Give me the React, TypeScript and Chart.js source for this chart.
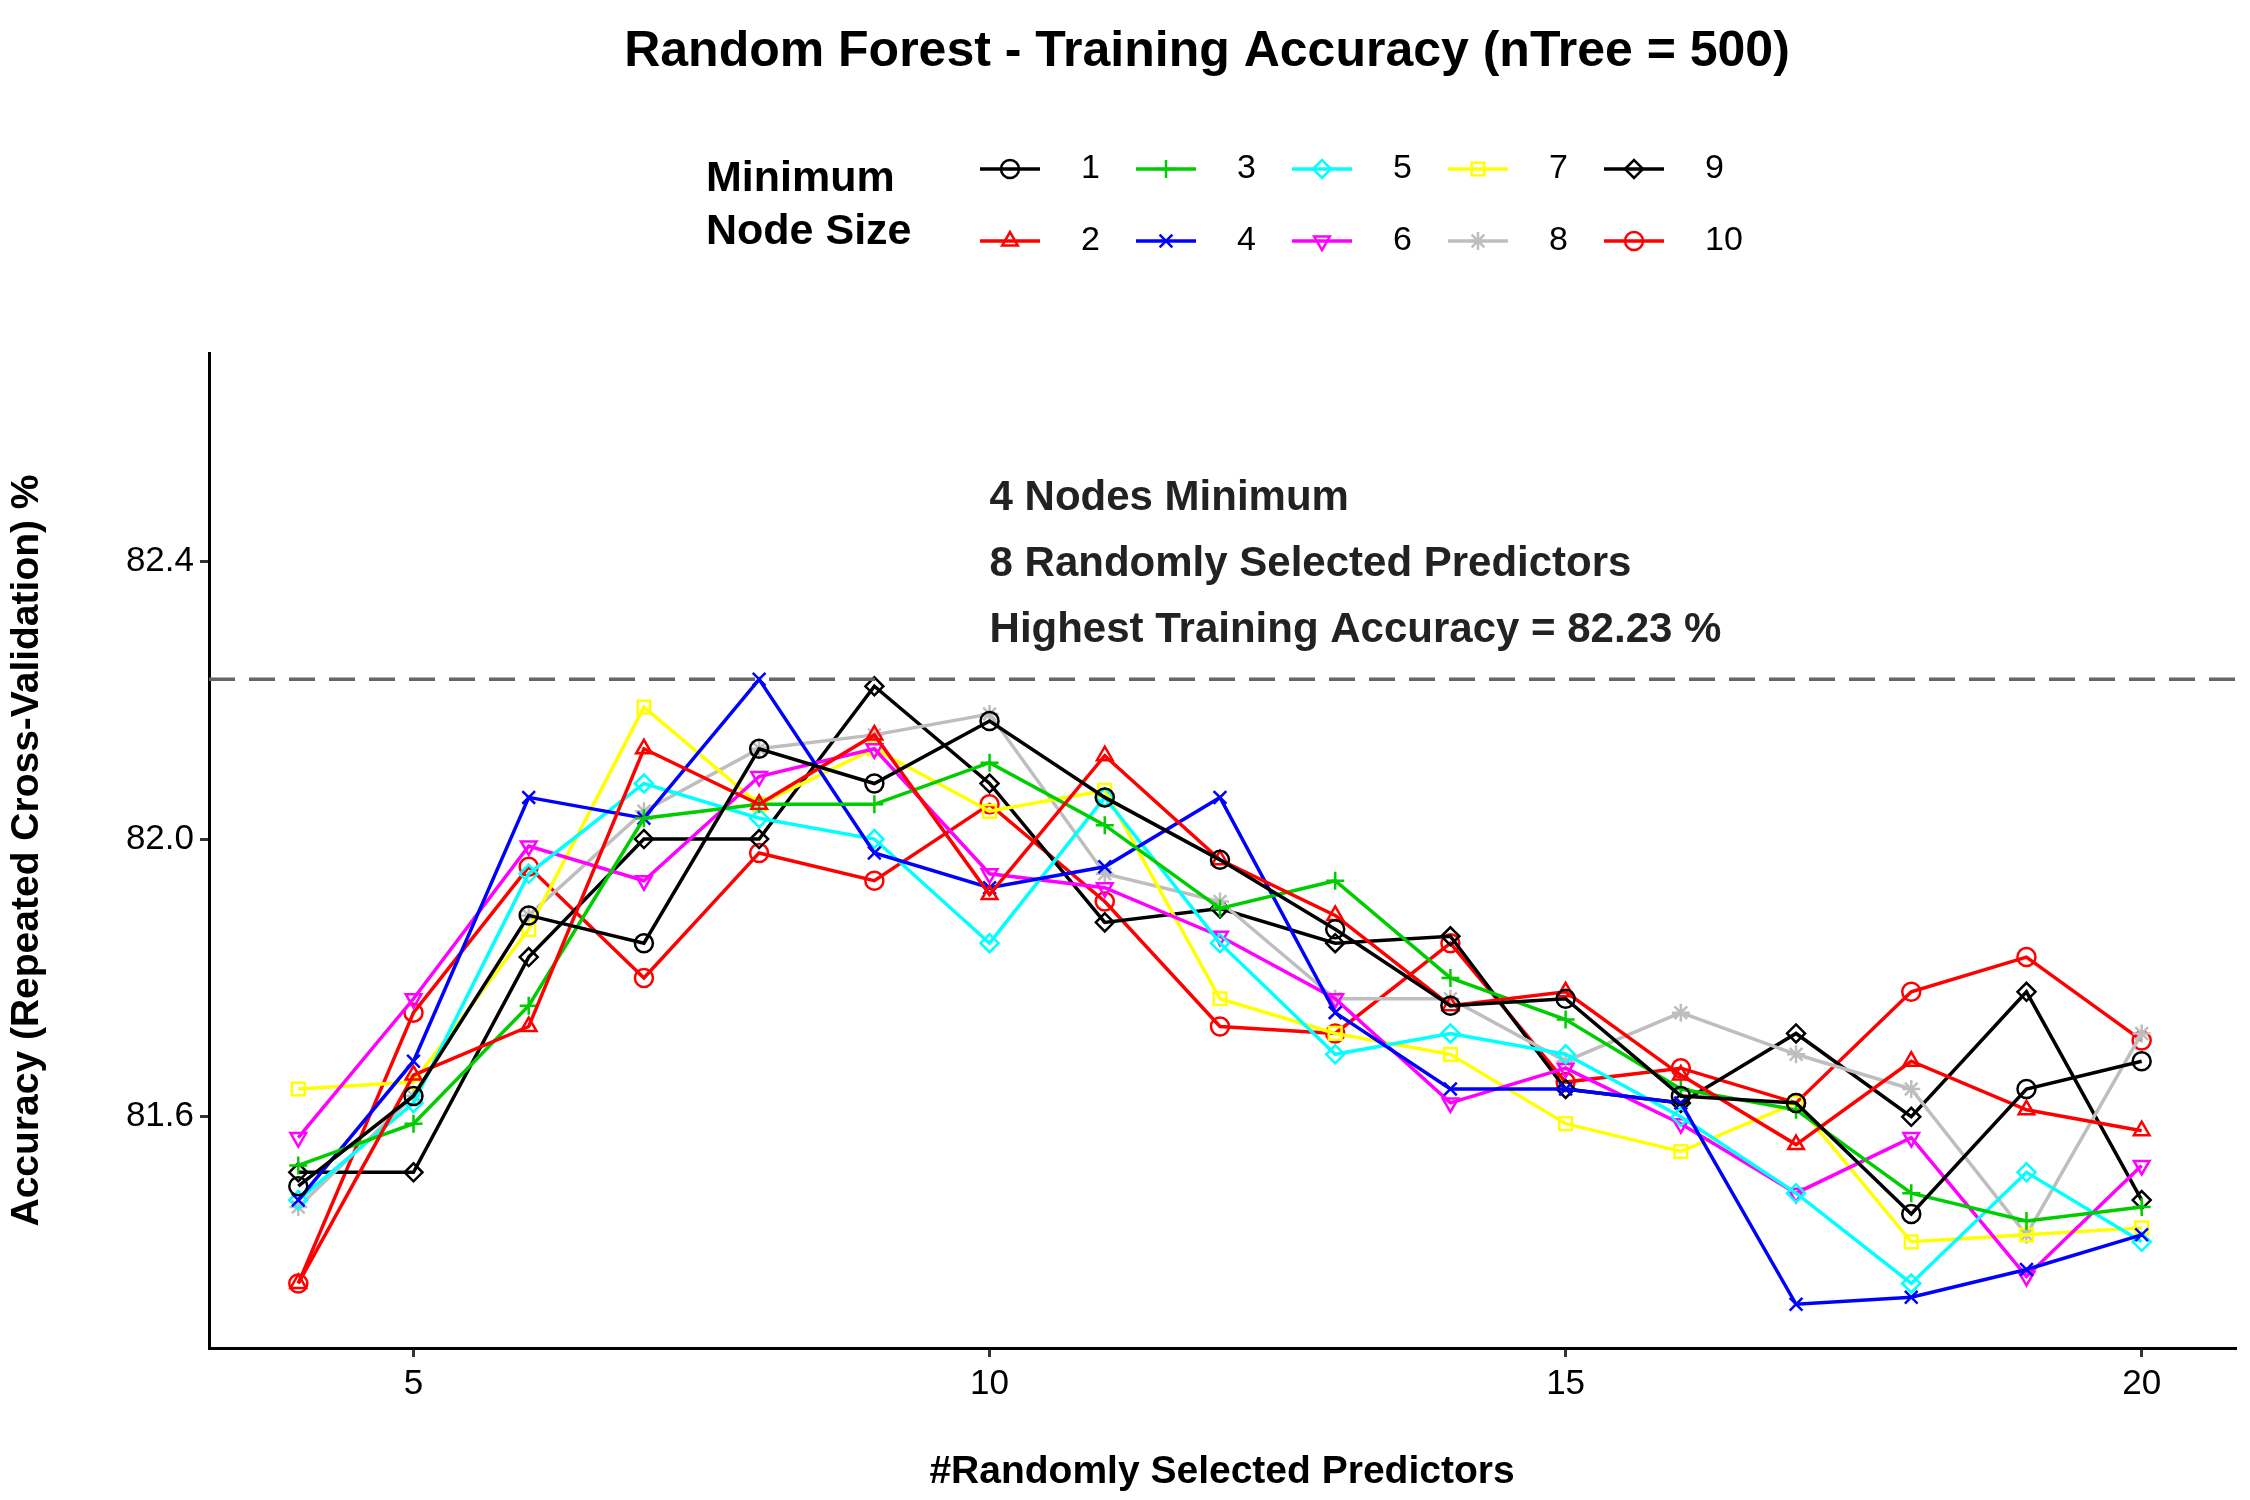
import { useEffect, useRef } from "react"
import { Chart, registerables } from "chart.js"
import { drawPoint } from "chart.js/helpers"

Chart.register(...registerables)

// ── Data ────────────────────────────────────────────────────
const PREDICTORS = [4, 5, 6, 7, 8, 9, 10, 11, 12, 13, 14, 15, 16, 17, 18, 19, 20]
const NODE_SIZES = ["1", "2", "3", "4", "5", "6", "7", "8", "9", "10"]

const ACC_1  = [81.50, 81.63, 81.89, 81.85, 82.13, 82.08, 82.17, 82.06, 81.97, 81.87, 81.76, 81.77, 81.63, 81.62, 81.46, 81.64, 81.68]
const ACC_2  = [81.36, 81.66, 81.73, 82.13, 82.05, 82.15, 81.92, 82.12, 81.97, 81.89, 81.76, 81.78, 81.66, 81.56, 81.68, 81.61, 81.58]
const ACC_3  = [81.53, 81.59, 81.76, 82.03, 82.05, 82.05, 82.11, 82.02, 81.90, 81.94, 81.80, 81.74, 81.64, 81.61, 81.49, 81.45, 81.47]
const ACC_4  = [81.48, 81.68, 82.06, 82.03, 82.23, 81.98, 81.93, 81.96, 82.06, 81.75, 81.64, 81.64, 81.62, 81.33, 81.34, 81.38, 81.43]
const ACC_5  = [81.48, 81.62, 81.95, 82.08, 82.03, 82.00, 81.85, 82.06, 81.85, 81.69, 81.72, 81.69, 81.60, 81.49, 81.36, 81.52, 81.42]
const ACC_6  = [81.57, 81.77, 81.99, 81.94, 82.09, 82.13, 81.95, 81.93, 81.86, 81.77, 81.62, 81.67, 81.59, 81.49, 81.57, 81.37, 81.53]
const ACC_7  = [81.64, 81.65, 81.87, 82.19, 82.05, 82.13, 82.04, 82.07, 81.77, 81.72, 81.69, 81.59, 81.55, 81.62, 81.42, 81.43, 81.44]
const ACC_8  = [81.47, 81.63, 81.89, 82.04, 82.13, 82.15, 82.18, 81.95, 81.91, 81.77, 81.77, 81.68, 81.75, 81.69, 81.64, 81.43, 81.72]
const ACC_9  = [81.52, 81.52, 81.83, 82.00, 82.00, 82.22, 82.08, 81.88, 81.90, 81.85, 81.86, 81.64, 81.62, 81.72, 81.60, 81.78, 81.48]
const ACC_10 = [81.36, 81.75, 81.96, 81.80, 81.98, 81.94, 82.05, 81.91, 81.73, 81.72, 81.85, 81.65, 81.67, 81.62, 81.78, 81.83, 81.71]
const SERIES = [ACC_1, ACC_2, ACC_3, ACC_4, ACC_5, ACC_6, ACC_7, ACC_8, ACC_9, ACC_10]

const BEST_ACC = 82.23
const NOTE_LINES = ["4 Nodes Minimum", "8 Randomly Selected Predictors", "Highest Training Accuracy = 82.23 %"]
const NOTE_Y = [82.49, 82.395, 82.30]
const X_TICKS = [5, 10, 15, 20]
const Y_TICKS = [81.6, 82.0, 82.4]

// ── Styles ──────────────────────────────────────────────────
const COLORS = ["#000000", "#ff0000", "#00cd00", "#0000ff", "#00ffff", "#ff00ff", "#ffff00", "#bebebe", "#000000", "#ff0000"]
const SHAPES = ["circle", "triangle", "cross", "crossRot", "rectRot", "triangle", "rect", "star", "rectRot", "circle"]
const ROTATION = [0, 0, 0, 0, 0, 180, 0, 0, 0, 0]
const FONT = "'Liberation Sans', Arial, sans-serif"

const overlayPlugin = {
  id: "overlay",
  afterDatasetsDraw(chart: any) {
    const { ctx, scales, chartArea } = chart
    const x = scales.x, y = scales.y
    ctx.save()
    // dashed best line
    const yb = y.getPixelForValue(BEST_ACC)
    ctx.strokeStyle = "#666"
    ctx.lineWidth = 3.5
    ctx.setLineDash([26, 14])
    ctx.beginPath()
    ctx.moveTo(chartArea.left, yb)
    ctx.lineTo(chartArea.right, yb)
    ctx.stroke()
    ctx.setLineDash([])
    // annotation
    ctx.fillStyle = "#222"
    ctx.font = `bold 42px ${FONT}`
    ctx.textBaseline = "middle"
    ctx.textAlign = "left"
    NOTE_LINES.forEach((t, i) => ctx.fillText(t, x.getPixelForValue(10), y.getPixelForValue(NOTE_Y[i])))
    // title
    ctx.fillStyle = "#000"
    ctx.textAlign = "center"
    ctx.font = `bold 50px ${FONT}`
    ctx.fillText("Random Forest - Training Accuracy (nTree = 500)", 1207, 52)
    // legend
    ctx.textAlign = "left"
    ctx.font = `bold 43px ${FONT}`
    ctx.fillText("Minimum", 706, 179)
    ctx.fillText("Node Size", 706, 232)
    ctx.font = `34px ${FONT}`
    NODE_SIZES.forEach((lab, i) => {
      const col = Math.floor(i / 2), row = i % 2
      const lx = 980 + col * 156, ly = row === 0 ? 169 : 241
      ctx.strokeStyle = COLORS[i]
      ctx.lineWidth = 3.5
      ctx.beginPath()
      ctx.moveTo(lx, ly)
      ctx.lineTo(lx + 60, ly)
      ctx.stroke()
      ctx.lineWidth = 2.5
      ctx.fillStyle = "rgba(0,0,0,0)"
      drawPoint(ctx, { pointStyle: SHAPES[i], radius: 9, rotation: ROTATION[i], borderWidth: 2.5 } as any, lx + 30, ly)
      ctx.fillStyle = "#000"
      ctx.fillText(lab, lx + 101, ly)
    })
    ctx.restore()
  },
}

export default function App() {
  const ref = useRef<HTMLCanvasElement>(null)
  useEffect(() => {
    document.body.style.margin = "0"
    if (!ref.current) return
    const chart = new Chart(ref.current, {
      type: "line",
      data: {
        datasets: SERIES.map((s, i) => ({
          label: NODE_SIZES[i],
          data: s.map((v, j) => ({ x: PREDICTORS[j], y: v })),
          borderColor: COLORS[i],
          backgroundColor: "transparent",
          borderWidth: 3.5,
          pointStyle: SHAPES[i] as any,
          pointRotation: ROTATION[i],
          pointRadius: 9,
          pointBorderWidth: 2.5,
          pointBorderColor: COLORS[i],
          pointBackgroundColor: "transparent",
          tension: 0,
        })),
      },
      options: {
        animation: false,
        responsive: false,
        layout: { padding: { top: 353, right: 15, left: 0, bottom: 0 } },
        plugins: { legend: { display: false }, tooltip: { enabled: false } },
        scales: {
          x: {
            type: "linear",
            min: 3.225,
            max: 20.81,
            afterBuildTicks: (s: any) => { s.ticks = X_TICKS.map(v => ({ value: v })) },
            afterFit: (s: any) => { s.height = 152 },
            ticks: { color: "#000", font: { family: FONT, size: 35 }, padding: 6 },
            grid: { drawOnChartArea: false, drawTicks: true, tickLength: 9, color: "#333", lineWidth: 3 },
            border: { color: "#000", width: 3 },
            title: { display: true, text: "#Randomly Selected Predictors", color: "#000", font: { family: FONT, size: 39, weight: "bold" }, padding: { top: 4 } },
          },
          y: {
            min: 81.267,
            max: 82.70,
            afterBuildTicks: (s: any) => { s.ticks = Y_TICKS.map(v => ({ value: v })) },
            afterFit: (s: any) => { s.width = 209 },
            ticks: { color: "#000", font: { family: FONT, size: 35 }, padding: 6, callback: (v: any) => Number(v).toFixed(1) },
            grid: { drawOnChartArea: false, drawTicks: true, tickLength: 9, color: "#333", lineWidth: 3 },
            border: { color: "#000", width: 3 },
            title: { display: true, text: "Accuracy (Repeated Cross-Validation) %", color: "#000", font: { family: FONT, size: 39, weight: "bold" }, padding: { bottom: 8 } },
          },
        },
      },
      plugins: [overlayPlugin],
    })
    return () => chart.destroy()
  }, [])
  return <canvas ref={ref} width={2250} height={1500} style={{ display: "block", width: 2250, height: 1500 }} />
}
